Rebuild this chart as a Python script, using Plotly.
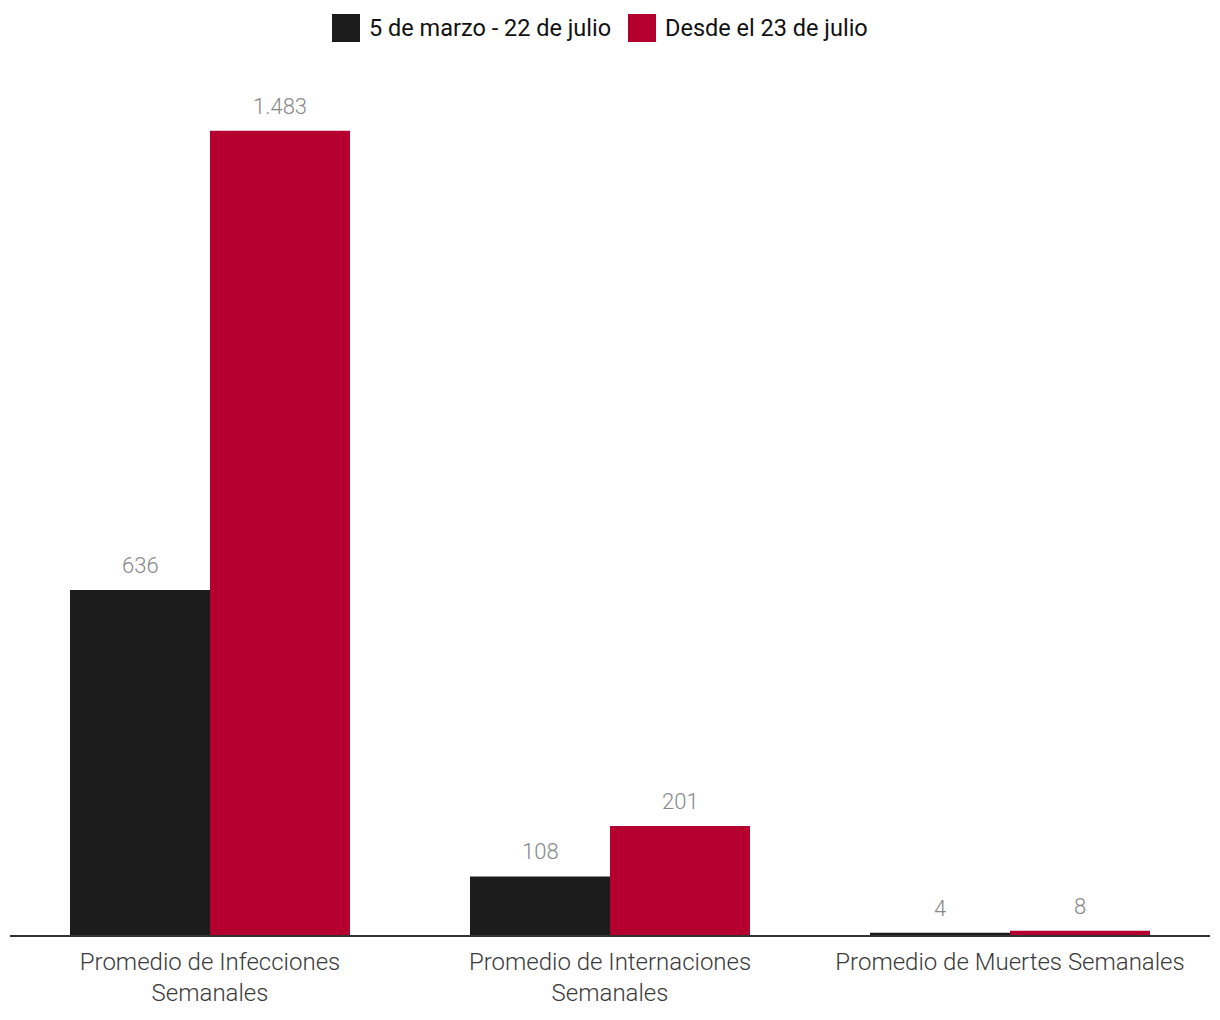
import plotly.graph_objects as go

categories = ["Promedio de Infecciones<br>Semanales",
              "Promedio de Internaciones<br>Semanales",
              "Promedio de Muertes Semanales"]
series_names = ["5 de marzo - 22 de julio", "Desde el 23 de julio"]
values_before = [636, 108, 4]
values_after = [1483, 201, 8]
colors = ["#1c1c1c", "#b5002f"]

W, H = 1212, 1012
ML, MR, MT, MB = 2, 10, 62, 85
OFF = 8  # page body margin
plot_h = H - MT - MB

fig = go.Figure()
for name, vals, col in zip(series_names, [values_before, values_after], colors):
    fig.add_trace(go.Bar(x=categories, y=vals, name=name, marker_color=col,
                         marker_line_width=0, showlegend=False))

# value labels
for i, vals in enumerate([values_before, values_after]):
    shift = -70 if i == 0 else 70
    for c, v in zip(categories, vals):
        fig.add_annotation(x=c, y=v, text=f"{v:,}".replace(",", "."),
                           xshift=shift, yshift=10, yanchor="bottom",
                           showarrow=False,
                           font=dict(family="Roboto", size=22, color="#888888", weight=300))

# custom legend (pixel positions in the page)
def px_x(p):
    return (p - OFF - ML) / (W - ML - MR)

def px_y(p):
    return (H - MB - (p - OFF)) / plot_h

legend_pos = [(332, 369), (628, 665)]
for (sx, tx), name, col in zip(legend_pos, series_names, colors):
    fig.add_shape(type="rect", xref="paper", yref="paper",
                  x0=px_x(sx), x1=px_x(sx + 28), y0=px_y(42), y1=px_y(14),
                  fillcolor=col, line_width=0)
    fig.add_annotation(xref="paper", yref="paper", x=px_x(tx - 2), y=px_y(28),
                       text=name, showarrow=False, xanchor="left", yanchor="middle",
                       font=dict(family="Roboto", size=23.5, color="#111111"))

fig.update_layout(
    width=W, height=H,
    margin=dict(l=ML, r=MR, t=MT, b=MB),
    paper_bgcolor="white", plot_bgcolor="white",
    barmode="group", bargap=0.3, bargroupgap=0,
    font=dict(family="Roboto", size=22, color="#3a3a3a"),
)
fig.update_xaxes(showline=True, linecolor="#333333", linewidth=2, ticks="",
                 tickfont=dict(family="Roboto", size=24, color="#3a3a3a", weight=300),
                 ticklabelstandoff=4, showgrid=False)
fig.update_yaxes(range=[0, 1595], visible=False, showgrid=False, zeroline=False)

fig.write_html("out.html")
